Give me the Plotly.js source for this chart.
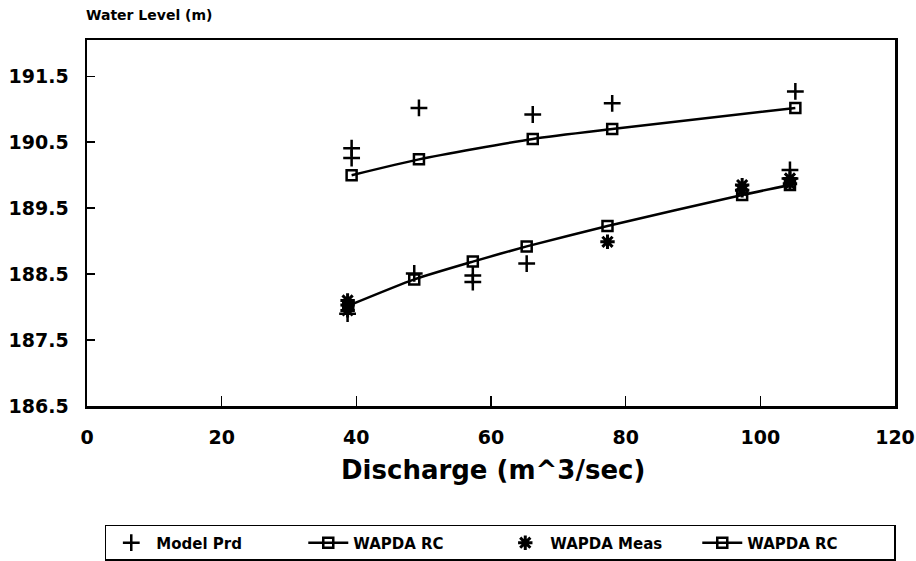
<!DOCTYPE html>
<html><head><meta charset="utf-8">
<script src="https://cdn.plot.ly/plotly-3.0.1.min.js"></script>
<style>html,body{margin:0;padding:0;background:#fff}#chart{width:916px;height:561px}</style>
</head><body><div id="chart"></div>
<script>
// Model predictions (+)
const modelX = [39.3, 39.3, 49.3, 66.2, 78.0, 105.2, 38.7, 48.6, 57.3, 57.3, 65.3, 104.4, 104.4];
const modelY = [190.41, 190.26, 191.02, 190.92, 191.09, 191.27, 187.90, 188.51, 188.48, 188.38, 188.66, 190.08, 189.95];
// WAPDA rating curve (upper)
const rc1X = [39.3, 49.3, 66.2, 78.0, 105.2];
const rc1Y = [190.00, 190.24, 190.55, 190.70, 191.02];
// WAPDA measurements (*)
const measX = [38.7, 38.7, 38.7, 77.3, 97.3, 97.3, 104.4, 104.4];
const measY = [188.10, 188.03, 187.95, 188.99, 189.85, 189.77, 189.95, 189.87];
// WAPDA rating curve (lower)
const rc2X = [38.8, 48.6, 57.3, 65.3, 77.3, 97.3, 104.4];
const rc2Y = [188.02, 188.42, 188.69, 188.92, 189.23, 189.70, 189.85];

const xTicks = [0, 20, 40, 60, 80, 100, 120];
const yTicks = [186.5, 187.5, 188.5, 189.5, 190.5, 191.5];

const F = "DejaVu Sans, Arial, sans-serif";
const traces = [
  {x: modelX, y: modelY, name: 'Model Prd', mode: 'markers', type: 'scatter',
   marker: {symbol: 'cross-thin-open', size: 12, color: '#000', line: {width: 2.5, color: '#000'}}},
  {x: rc1X, y: rc1Y, name: 'WAPDA RC', mode: 'lines+markers', type: 'scatter',
   line: {shape: 'spline', smoothing: 0.6, color: '#000', width: 2.5},
   marker: {symbol: 'square-open', size: 10, color: '#000', line: {width: 2.5, color: '#000'}}},
  {x: measX, y: measY, name: 'WAPDA Meas', mode: 'markers', type: 'scatter',
   marker: {symbol: 'asterisk-open', size: 12, color: '#000', line: {width: 3, color: '#000'}}},
  {x: rc2X, y: rc2Y, name: 'WAPDA RC', mode: 'lines+markers', type: 'scatter',
   line: {shape: 'spline', smoothing: 0.6, color: '#000', width: 2.5},
   marker: {symbol: 'square-open', size: 10, color: '#000', line: {width: 2.5, color: '#000'}}}
];

const layout = {
  width: 916, height: 561,
  paper_bgcolor: '#fff', plot_bgcolor: '#fff',
  margin: {l: 87, r: 21, t: 40, b: 155, autoexpand: false},
  showlegend: true,
  legend: {orientation: 'h', x: 0.022, xanchor: 'left', y: -0.325, yanchor: 'top',
    bordercolor: '#000', borderwidth: 1.5, bgcolor: '#fff',
    font: {family: F, size: 15, color: '#000', weight: 'bold'},
    entrywidth: 142, itemwidth: 40, tracegroupgap: 0},
  xaxis: {range: [0, 120], tickvals: xTicks, ticktext: xTicks.map(String),
    showgrid: false, zeroline: false, showline: true, linecolor: '#000', linewidth: 2.5, mirror: true,
    ticks: 'inside', ticklen: 10, tickwidth: 1.5, tickcolor: '#000',
    ticklabelstandoff: 13,
    tickfont: {family: F, size: 19, color: '#000', weight: 'bold'}},
  yaxis: {range: [186.5, 192.05], tickvals: yTicks, ticktext: yTicks.map(v => v.toFixed(1)),
    showgrid: false, zeroline: false, showline: true, linecolor: '#000', linewidth: 2.5, mirror: true,
    ticks: 'inside', ticklen: 8, tickwidth: 1.5, tickcolor: '#000',
    ticklabelstandoff: 12,
    tickfont: {family: F, size: 19, color: '#000', weight: 'bold'}},
  annotations: [
    {text: 'Water Level (m)', xref: 'paper', yref: 'paper', x: -0.004, y: 1.068, xanchor: 'left', yanchor: 'middle',
     showarrow: false, font: {family: F, size: 14, color: '#000', weight: 'bold'}},
    {text: 'Discharge (m^3/sec)', xref: 'paper', yref: 'paper', x: 0.503, y: -0.175, xanchor: 'center', yanchor: 'middle',
     showarrow: false, font: {family: F, size: 26, color: '#000', weight: 'bold'}}
  ]
};
Plotly.newPlot('chart', traces, layout, {displayModeBar: false, staticPlot: true});
</script></body></html>
